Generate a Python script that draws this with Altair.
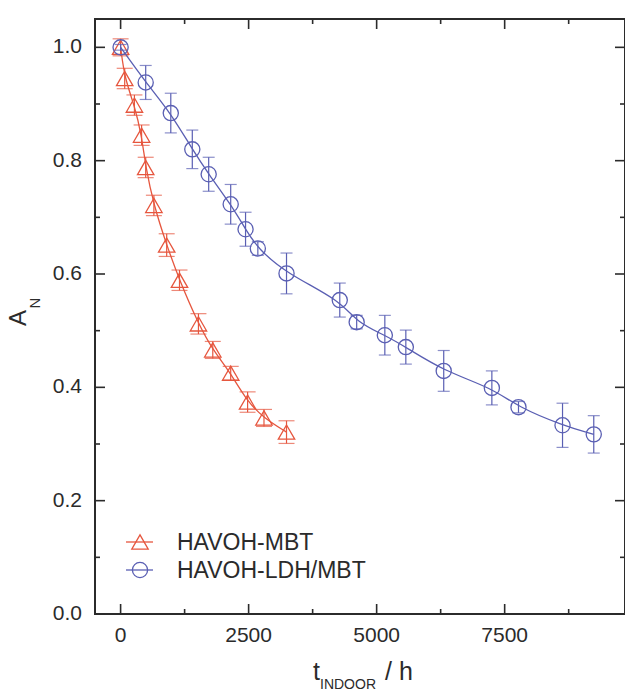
import altair as alt
import pandas as pd

# HAVOH-MBT: normalised absorbance vs. indoor exposure time
mbt_t = [0, 80, 270, 410, 490, 650, 900, 1150, 1520, 1800, 2150, 2480, 2800, 3240]
mbt_a = [1.0, 0.945, 0.898, 0.845, 0.788, 0.721, 0.651, 0.589, 0.512, 0.466, 0.425, 0.374, 0.346, 0.321]
mbt_err = [0.015, 0.018, 0.018, 0.018, 0.018, 0.018, 0.02, 0.018, 0.018, 0.015, 0.012, 0.018, 0.015, 0.02]

# HAVOH-LDH/MBT
ldh_t = [0, 490, 980, 1400, 1720, 2150, 2440, 2680, 3240, 4280, 4610, 5160, 5570, 6310, 7250, 7770, 8630, 9240]
ldh_a = [1.0, 0.938, 0.884, 0.820, 0.776, 0.723, 0.679, 0.645, 0.601, 0.554, 0.515, 0.492, 0.471,
         0.429, 0.399, 0.365, 0.333, 0.317]
ldh_err = [0.005, 0.03, 0.035, 0.034, 0.03, 0.035, 0.03, 0.012, 0.036, 0.03, 0.012, 0.035, 0.03,
           0.036, 0.03, 0.01, 0.039, 0.033]

series_names = ["HAVOH-MBT", "HAVOH-LDH/MBT"]

x_major = [0, 2500, 5000, 7500]
x_minor = [1250, 3750, 6250, 8750]
y_major = [0.0, 0.2, 0.4, 0.6, 0.8, 1.0]
y_minor = [0.1, 0.3, 0.5, 0.7, 0.9]

RED = "#e6563e"
BLUE = "#5a5fb3"
INK = "#2b2b2b"
FONT = "Liberation Sans"
W, H = 530, 595

xs = alt.Scale(domain=[-500, 9850], nice=False, zero=False)
ys = alt.Scale(domain=[0, 1.05], nice=False, zero=False)


def X(field):
    return alt.X(field, type="quantitative", scale=xs, axis=None)


def Y(field):
    return alt.Y(field, type="quantitative", scale=ys, axis=None)


def table(t, a, e):
    df = pd.DataFrame({"t": t, "a": a, "e": e})
    df["lo"] = df["a"] - df["e"]
    df["hi"] = df["a"] + df["e"]
    return df


def series(df, color, shape, cap, size):
    base = alt.Chart(df)
    line = base.mark_line(color=color, strokeWidth=1.3, interpolate="basis").encode(
        x=X("t"), y=Y("a"))
    bar = base.mark_rule(color=color, strokeWidth=1.2).encode(x=X("t"), y=Y("lo"), y2="hi")
    cap_lo = base.mark_tick(color=color, orient="horizontal", size=cap, thickness=1.2).encode(
        x=X("t"), y=Y("lo"))
    cap_hi = base.mark_tick(color=color, orient="horizontal", size=cap, thickness=1.2).encode(
        x=X("t"), y=Y("hi"))
    pts = base.mark_point(shape=shape, filled=False, color=color, size=size,
                          strokeWidth=1.3, opacity=1).encode(x=X("t"), y=Y("a"))
    return [line, bar, cap_lo, cap_hi, pts]


mbt = table(mbt_t, mbt_a, mbt_err)
ldh = table(ldh_t, ldh_a, ldh_err)

# Inward ticks on all four sides
xmaj = pd.DataFrame({"v": x_major})
xmin = pd.DataFrame({"v": x_minor})
ymaj = pd.DataFrame({"v": y_major})
ymin = pd.DataFrame({"v": y_minor})

tick_style = dict(color=INK, strokeWidth=1.6)
ticks = [
    alt.Chart(xmaj).mark_rule(**tick_style).encode(x=X("v"), y=alt.value(H), y2=alt.value(H - 10)),
    alt.Chart(xmaj).mark_rule(**tick_style).encode(x=X("v"), y=alt.value(0), y2=alt.value(10)),
    alt.Chart(xmin).mark_rule(**tick_style).encode(x=X("v"), y=alt.value(H), y2=alt.value(H - 5)),
    alt.Chart(xmin).mark_rule(**tick_style).encode(x=X("v"), y=alt.value(0), y2=alt.value(5)),
    alt.Chart(ymaj).mark_rule(**tick_style).encode(y=Y("v"), x=alt.value(0), x2=alt.value(10)),
    alt.Chart(ymaj).mark_rule(**tick_style).encode(y=Y("v"), x=alt.value(W), x2=alt.value(W - 10)),
    alt.Chart(ymin).mark_rule(**tick_style).encode(y=Y("v"), x=alt.value(0), x2=alt.value(5)),
    alt.Chart(ymin).mark_rule(**tick_style).encode(y=Y("v"), x=alt.value(W), x2=alt.value(W - 5)),
]

# Tick labels, placed through the same scales
tick_labels = [
    alt.Chart(xmaj).mark_text(font=FONT, fontSize=21, color=INK, align="center", baseline="top").encode(
        x=X("v"), y=alt.value(H + 11), text=alt.Text("v:Q", format="d")),
    alt.Chart(ymaj).mark_text(font=FONT, fontSize=21, color=INK, align="right", baseline="middle").encode(
        y=Y("v"), x=alt.value(-13), text=alt.Text("v:Q", format=".1f")),
]

# Legend in the lower-left corner: line segment through an open symbol, then the name
legend = []
for name, color, shape, size, ypix in [(series_names[0], RED, "triangle-up", 270, 523),
                                       (series_names[1], BLUE, "circle", 230, 551)]:
    ldf = pd.DataFrame({"name": [name]})
    lb = alt.Chart(ldf)
    legend += [
        lb.mark_rule(color=color, strokeWidth=1.3).encode(
            x=alt.value(31), x2=alt.value(58), y=alt.value(ypix)),
        lb.mark_point(shape=shape, filled=False, color=color, size=size, strokeWidth=1.3,
                      opacity=1).encode(x=alt.value(45), y=alt.value(ypix)),
        lb.mark_text(align="left", baseline="middle", font=FONT, fontSize=23, color=INK).encode(
            x=alt.value(82), y=alt.value(ypix + 1), text="name:N"),
    ]

# Axis titles with subscripts
titles = pd.DataFrame({"s": ["A", "N", "t", "INDOOR", "/ h"]})
tb = alt.Chart(titles)


def part(s, **kw):
    return tb.transform_filter(alt.datum.s == s).mark_text(font=FONT, color=INK, **kw)


title_layers = [
    part("A", angle=270, fontSize=24, align="center", baseline="middle").encode(
        x=alt.value(-76), y=alt.value(299), text="s:N"),
    part("N", angle=270, fontSize=15, align="center", baseline="middle").encode(
        x=alt.value(-60), y=alt.value(284), text="s:N"),
    part("t", fontSize=25, align="left", baseline="alphabetic").encode(
        x=alt.value(218), y=alt.value(661), text="s:N"),
    part("INDOOR", fontSize=14, align="left", baseline="alphabetic").encode(
        x=alt.value(225), y=alt.value(670), text="s:N"),
    part("/ h", fontSize=25, align="left", baseline="alphabetic").encode(
        x=alt.value(290), y=alt.value(661), text="s:N"),
]

chart = alt.layer(
    *ticks,
    *tick_labels,
    *series(mbt, RED, "triangle-up", 16, 270),
    *series(ldh, BLUE, "circle", 12, 230),
    *legend,
    *title_layers,
).properties(
    width=W,
    height=H,
    autosize="none",
    padding={"left": 95, "top": 19, "right": 0, "bottom": 77},
    background="white",
).configure_view(stroke=INK, strokeWidth=2)

chart.save("out.html", embed_options={"renderer": "svg", "actions": False})
